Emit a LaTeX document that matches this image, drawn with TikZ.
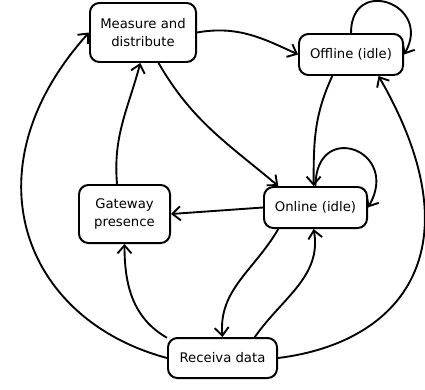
\documentclass[tikz,border=0pt]{standalone}
\usepackage{fontspec}
\setmainfont{DejaVu Sans}
\usetikzlibrary{arrows.meta}

\begin{document}
\begin{tikzpicture}[x=0.03cm, y=-0.03cm,
    statebox/.style={draw, line width=1.7pt, rounded corners=8pt, align=center,
        inner sep=0pt, font=\fontsize{11.3}{15.3}\selectfont},
    trans/.style={line width=1.6pt, -{Straight Barb[length=2.4mm, width=4.2mm, line width=1.6pt]}}]
            \useasboundingbox (0,0) rectangle (425,389);

            \node[statebox, minimum width=3.18cm, minimum height=1.77cm] (meas) at (143,32.5) {Measure and\\distribute};
            \node[statebox, minimum width=3.12cm, minimum height=1.23cm] (off) at (351,54.5) {Offline (idle)};
            \node[statebox, minimum width=2.73cm, minimum height=1.74cm] (gate) at (124.5,214) {Gateway\\presence};
            \node[statebox, minimum width=3.09cm, minimum height=1.23cm] (on) at (315.5,207.5) {Online (idle)};
            \node[statebox, minimum width=3.27cm, minimum height=1.2cm] (recv) at (222.5,358) {Receiva data};

            \draw[trans] (meas.east) to [out=10, in=155] (off.west);
            \draw[trans] (off.north) to [out=90, in=60, looseness=2.6] (off.east);
            \draw[trans] (meas.-63) to [out=-60, in=140] (on.150);
            \draw[trans] (off.-131) to [out=-115, in=90] (on.95);
            \draw[trans] (on.north) to [out=90, in=60, looseness=3] (on.east);
            \draw[trans] (on.west) -- (gate.east);
            \draw[trans] (gate.104) to [out=95, in=-105] (meas.-95);
            \draw[trans] (recv.160) to [out=150, in=-90] (gate.south);
            \draw[trans] (on.-150) to [out=-120, in=95] (recv.north);
            \draw[trans] (recv.33) to [out=55, in=-80] (on.-95);
            \draw[trans] (recv.west) to [out=165, in=-132, out distance=4.5cm, in distance=5.5cm] (meas.west);
            \draw[trans] (recv.east) to [out=7, in=-60, out distance=3.75cm, in distance=6cm] (off.-38);
        \end{tikzpicture}
\end{document}
